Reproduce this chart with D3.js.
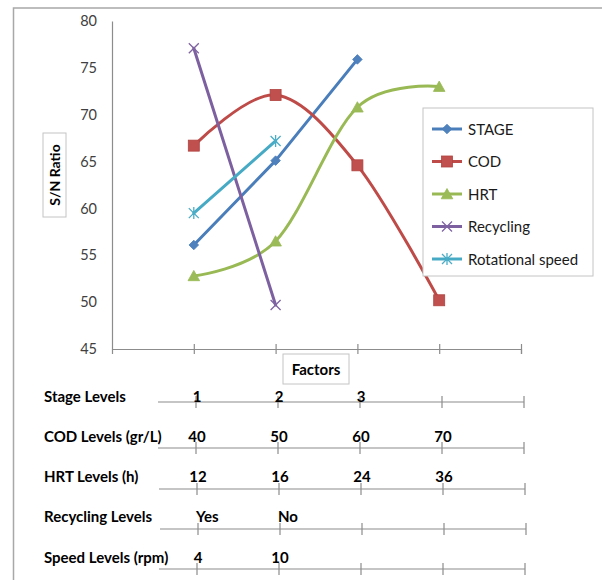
<!DOCTYPE html>
<html>
<head>
<meta charset="utf-8">
<script src="https://cdn.jsdelivr.net/npm/d3@7"></script>
<style>
  html, body { margin: 0; padding: 0; background: #ffffff; }
  svg { display: block; }
  text { font-family: Lato, "Open Sans", sans-serif; }
</style>
</head>
<body>
<div id="chart"></div>
<script>
// ---- data ----
const categories = [1, 2, 3, 4];
const seriesNames = ["STAGE", "COD", "HRT", "Recycling", "Rotational speed"];
const stageValues = [56.1, 65.1, 75.9];
const codValues = [66.7, 72.1, 64.6, 50.2];
const hrtValues = [52.8, 56.5, 70.8, 73.0];
const recyclingValues = [77.1, 49.7];
const speedValues = [59.5, 67.2];
const yTicks = [45, 50, 55, 60, 65, 70, 75, 80];
const levelRowNames = ["Stage Levels", "COD Levels (gr/L)", "HRT Levels (h)", "Recycling Levels", "Speed Levels (rpm)"];
const stageLevels = ["1", "2", "3"];
const codLevels = ["40", "50", "60", "70"];
const hrtLevels = ["12", "16", "24", "36"];
const recyclingLevels = ["Yes", "No"];
const speedLevels = ["4", "10"];

// ---- styling ----
const W = 602, H = 580;
const axisColor = "#8c8c8c";
const series = [
  { name: seriesNames[0], values: stageValues, line: "#4A7EBB", fill: "#4F81BD", marker: "diamond", smooth: false },
  { name: seriesNames[1], values: codValues, line: "#BE4B48", fill: "#C0504D", marker: "square", smooth: true },
  { name: seriesNames[2], values: hrtValues, line: "#98B954", fill: "#9BBB59", marker: "triangle", smooth: true },
  { name: seriesNames[3], values: recyclingValues, line: "#7D60A0", fill: "#8064A2", marker: "x", smooth: false },
  { name: seriesNames[4], values: speedValues, line: "#46AAC5", fill: "#4BACC6", marker: "star", smooth: false }
];

const svg = d3.select("#chart").append("svg")
  .attr("width", W).attr("height", H);

// outer frame (top and left edges)
svg.append("path")
  .attr("d", `M13.5,${H} V8 H${W}`)
  .attr("fill", "none").attr("stroke", "#a8a8a8").attr("stroke-width", 1.5);

const x = d3.scaleLinear().domain([0, 5]).range([112, 521]);
const y = d3.scaleLinear().domain([45, 80]).range([349, 21]);

// y axis
const yAxis = svg.append("g").attr("transform", `translate(${x(0)},0)`)
  .call(d3.axisLeft(y).tickValues(yTicks).tickSize(0).tickPadding(15));
yAxis.select(".domain").attr("stroke", axisColor).attr("stroke-width", 1.2);
yAxis.selectAll("text").attr("font-size", 14.5).attr("fill", "#404040")
  .attr("font-family", "Lato, sans-serif");

// x axis with crossing tick marks
const xAxis = svg.append("g").attr("transform", `translate(0,${y(45)})`)
  .call(d3.axisBottom(x).tickValues([1, 2, 3, 4, 5]).tickSizeOuter(0).tickSize(5).tickFormat(""));
xAxis.select(".domain").attr("stroke", axisColor).attr("stroke-width", 1.2);
xAxis.selectAll(".tick line").attr("y1", -5).attr("y2", 5)
  .attr("stroke", axisColor).attr("stroke-width", 1.2);

// y axis title box
svg.append("rect").attr("x", 43).attr("y", 133).attr("width", 23).attr("height", 84)
  .attr("fill", "#fff").attr("stroke", "#c4c4c4");
svg.append("text")
  .attr("transform", "translate(59.5,175) rotate(-90)")
  .attr("text-anchor", "middle")
  .attr("font-size", 14).attr("font-weight", "bold").attr("fill", "#000")
  .text("S/N Ratio");

// x axis title box
svg.append("rect").attr("x", 283).attr("y", 354).attr("width", 66).attr("height", 30)
  .attr("fill", "#fff").attr("stroke", "#c4c4c4");
svg.append("text").attr("x", 316).attr("y", 374.5)
  .attr("text-anchor", "middle")
  .attr("font-size", 15).attr("font-weight", "bold").attr("fill", "#000")
  .text("Factors");

// markers
function drawMarker(g, type, s) {
  if (type === "diamond") {
    g.append("path").attr("d", "M0,-4.8L4.8,0L0,4.8L-4.8,0Z")
      .attr("fill", s.fill).attr("stroke", s.line).attr("stroke-width", 0.8);
  } else if (type === "square") {
    g.append("rect").attr("x", -5.5).attr("y", -5.5).attr("width", 11).attr("height", 11)
      .attr("fill", s.fill).attr("stroke", "#b0423f").attr("stroke-width", 0.8);
  } else if (type === "triangle") {
    g.append("path").attr("d", "M0,-5.5L5.8,4.8L-5.8,4.8Z")
      .attr("fill", s.fill).attr("stroke", s.line).attr("stroke-width", 0.8);
  } else if (type === "x") {
    g.append("path").attr("d", "M-5,-5L5,5M-5,5L5,-5")
      .attr("fill", "none").attr("stroke", s.fill).attr("stroke-width", 1.3);
  } else if (type === "star") {
    g.append("path").attr("d", "M-5,-5L5,5M-5,5L5,-5M0,-6L0,6")
      .attr("fill", "none").attr("stroke", s.fill).attr("stroke-width", 1.3);
  }
}

// series lines and markers
const plot = svg.append("g");
series.forEach(s => {
  const pts = s.values.map((v, i) => [categories[i], v]);
  const line = d3.line()
    .x(d => x(d[0])).y(d => y(d[1]))
    .curve(s.smooth ? d3.curveCardinal.tension(0) : d3.curveLinear);
  plot.append("path").datum(pts)
    .attr("d", line)
    .attr("fill", "none").attr("stroke", s.line).attr("stroke-width", 3)
    .attr("stroke-linejoin", "round").attr("stroke-linecap", "round");
});
series.forEach(s => {
  s.values.forEach((v, i) => {
    const g = plot.append("g").attr("transform", `translate(${x(categories[i])},${y(v)})`);
    drawMarker(g, s.marker, s);
  });
});

// legend
const legend = svg.append("g");
legend.append("rect").attr("x", 423).attr("y", 108).attr("width", 170).attr("height", 168)
  .attr("fill", "#fff").attr("stroke", "#c4c4c4");
series.forEach((s, i) => {
  const ly = 129 + i * 32.5;
  legend.append("line").attr("x1", 432).attr("x2", 462).attr("y1", ly).attr("y2", ly)
    .attr("stroke", s.line).attr("stroke-width", 3);
  const g = legend.append("g").attr("transform", `translate(447,${ly})`);
  drawMarker(g, s.marker, s);
  legend.append("text").attr("x", 468).attr("y", ly + 5.5)
    .attr("font-size", 15).attr("fill", "#1a1a1a")
    .text(s.name);
});

// factor level rows beneath the chart
const levelSets = [stageLevels, codLevels, hrtLevels, recyclingLevels, speedLevels];
const rowLineY = [402, 448, 489, 529, 569];
const rowTextY = [401.5, 442, 482, 522, 563];
const rowShift = [0, 0, 1, 2, 1];
levelRowNames.forEach((name, r) => {
  const rx = d3.scaleLinear().domain([0, 5]).range([114 + rowShift[r], 524 + rowShift[r]]);
  const g = svg.append("g");
  g.append("text").attr("x", 44).attr("y", rowTextY[r])
    .attr("font-size", 15).attr("font-weight", "bold").attr("fill", "#000")
    .text(name);
  const axis = g.append("g").attr("transform", `translate(0,${rowLineY[r]})`);
  axis.append("line").attr("x1", 158 + rowShift[r]).attr("x2", rx(5))
    .attr("stroke", axisColor).attr("stroke-width", 1.2);
  axis.selectAll("line.tk").data([1, 2, 3, 4, 5]).join("line").attr("class", "tk")
    .attr("x1", d => rx(d)).attr("x2", d => rx(d)).attr("y1", -6).attr("y2", 6)
    .attr("stroke", axisColor).attr("stroke-width", 1.2);
  const textLeft = name === "Recycling Levels";
  g.selectAll("text.lv").data(levelSets[r]).join("text").attr("class", "lv")
    .attr("x", (d, i) => textLeft ? rx(i + 1) - 2 : rx(i + 1) + 1)
    .attr("y", rowTextY[r])
    .attr("text-anchor", textLeft ? "start" : "middle")
    .attr("font-size", 15).attr("font-weight", "bold").attr("fill", "#000")
    .text(d => d);
});
</script>
</body>
</html>
